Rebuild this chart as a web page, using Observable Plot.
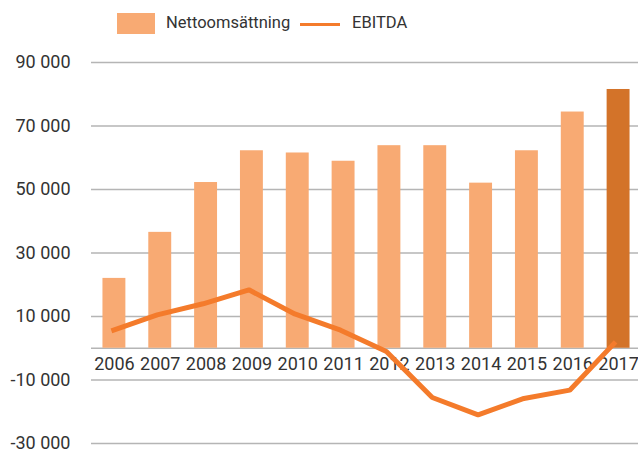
<!DOCTYPE html>
<html>
<head>
<meta charset="utf-8">
<script src="https://cdn.jsdelivr.net/npm/d3@7"></script>
<script src="https://cdn.jsdelivr.net/npm/@observablehq/plot@0.6"></script>
<style>
  html, body { margin: 0; padding: 0; background: #fff; }
  body { width: 638px; height: 457px; position: relative; overflow: hidden; font-family: Roboto, "DejaVu Sans", sans-serif; color: #333; }
  #legend { position: absolute; left: 0; top: 0; width: 638px; height: 40px; }
  .sw-bar { position: absolute; left: 117px; top: 13px; width: 38px; height: 21px; }
  .sw-line { position: absolute; left: 300px; top: 23px; width: 40px; height: 3px; }
  .lg-text { position: absolute; top: 12px; font-size: 16.5px; line-height: 22px; color: #333; }
  #chart { position: absolute; left: 0; top: 40px; }
</style>
</head>
<body>
<div id="legend"></div>
<div id="chart"></div>
<script>
// Data
const years = ["2006","2007","2008","2009","2010","2011","2012","2013","2014","2015","2016","2017"];
const netSales = [22000, 36500, 52200, 62200, 61500, 58900, 63800, 63800, 52000, 62200, 74400, 81500];
const ebitda = [5500, 10500, 14000, 18400, 10800, 5700, -1000, -15500, -21000, -15800, -13200, 2000];
const yTicks = [-30000, -10000, 10000, 30000, 50000, 70000, 90000];
const seriesNames = ["Nettoomsättning", "EBITDA"];
const highlightYear = "2017";

const barColor = "#F8AA73";
const barHighlight = "#D37329";
const lineColor = "#F47B2B";
const gridColor = "#B5B5B5";

// Legend
const legend = document.getElementById("legend");
legend.innerHTML = `
  <div class="sw-bar" style="background:${barColor}"></div>
  <div class="lg-text" style="left:166px">${seriesNames[0]}</div>
  <div class="sw-line" style="background:${lineColor}"></div>
  <div class="lg-text" style="left:352px">${seriesNames[1]}</div>`;

const rows = years.map((y, i) => ({year: y, sales: netSales[i], ebitda: ebitda[i]}));
const loc = d3.formatLocale({decimal: ",", thousands: " ", grouping: [3], currency: ["", ""], minus: "-"});
const fmt = loc.format(",d");

const plot = Plot.plot({
  width: 638,
  height: 417,
  marginLeft: 91,
  marginRight: -3,
  marginTop: 22,
  marginBottom: 14,
  style: {fontFamily: "Roboto, 'DejaVu Sans', sans-serif", fontSize: "18px", color: "#333", overflow: "visible"},
  x: {domain: years, paddingInner: 0.5, paddingOuter: 0.25, round: false, axis: null},
  y: {domain: [-30000, 90000], axis: null},
  marks: [
    Plot.ruleY(yTicks, {stroke: gridColor, strokeWidth: 1.6}),
    Plot.ruleY([0], {stroke: gridColor, strokeWidth: 1.6}),
    Plot.axisY(yTicks, {tickSize: 0, tickPadding: 21, tickFormat: fmt, fontSize: 18, fill: "#333"}),
    Plot.barY(rows, {x: "year", y: "sales", fill: d => d.year === highlightYear ? barHighlight : barColor}),
    Plot.text(rows, {x: "year", y: () => 0, text: "year", dy: 16, fontSize: 18, fill: "#333"}),
    Plot.line(rows, {x: "year", y: "ebitda", stroke: lineColor, strokeWidth: 5, dx: -3, strokeLinejoin: "miter", strokeLinecap: "butt"})
  ]
});
document.getElementById("chart").appendChild(plot);
</script>
</body>
</html>
